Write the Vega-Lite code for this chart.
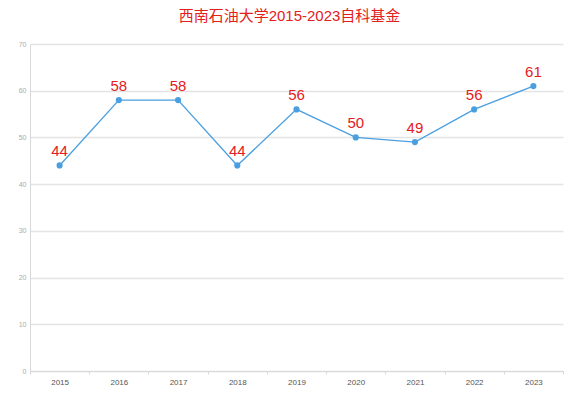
{
  "$schema": "https://vega.github.io/schema/vega-lite/v6.json",
  "autosize": {"type": "none"},
  "width": 533,
  "height": 327,
  "padding": {"left": 30, "top": 44, "right": 17, "bottom": 27},
  "background": "white",
  "title": {
    "text": "西南石油大学2015-2023自科基金",
    "color": "#e4201c",
    "font": "Liberation Sans, Noto Sans CJK SC",
    "fontSize": 15,
    "fontWeight": "normal",
    "anchor": "middle",
    "offset": 16,
    "dx": -7
  },
  "data": {
    "values": [
      {"year": "2015", "value": 44},
      {"year": "2016", "value": 58},
      {"year": "2017", "value": 58},
      {"year": "2018", "value": 44},
      {"year": "2019", "value": 56},
      {"year": "2020", "value": 50},
      {"year": "2021", "value": 49},
      {"year": "2022", "value": 56},
      {"year": "2023", "value": 61}
    ]
  },
  "config": {
    "view": {"stroke": null},
    "font": "Liberation Sans"
  },
  "encoding": {
    "x": {
      "field": "year",
      "type": "ordinal",
      "scale": {"paddingInner": 0, "paddingOuter": 0},
      "axis": {
        "title": null,
        "labelAngle": 0,
        "labelFontSize": 8,
        "labelColor": "#555555",
        "labelPadding": 4,
        "domainColor": "#d8d8d8",
        "tickColor": "#d8d8d8",
        "tickSize": 3,
        "tickBand": "extent",
        "grid": false
      }
    },
    "y": {
      "field": "value",
      "type": "quantitative",
      "scale": {"domain": [0, 70]},
      "axis": {
        "title": null,
        "values": [0, 10, 20, 30, 40, 50, 60, 70],
        "labelFontSize": 7,
        "labelColor": "#aaaaaa",
        "labelPadding": 4,
        "domainColor": "#d8d8d8",
        "ticks": false,
        "gridColor": "#e4e4e4",
        "gridWidth": 1.5
      }
    }
  },
  "layer": [
    {
      "mark": {"type": "line", "color": "#4a9fe0", "strokeWidth": 1.3}
    },
    {
      "mark": {"type": "point", "filled": true, "color": "#4a9fe0", "size": 38, "opacity": 1}
    },
    {
      "mark": {"type": "text", "color": "#e4201c", "fontSize": 15, "dy": -14, "font": "Liberation Sans"},
      "encoding": {"text": {"field": "value", "type": "quantitative"}}
    }
  ]
}
